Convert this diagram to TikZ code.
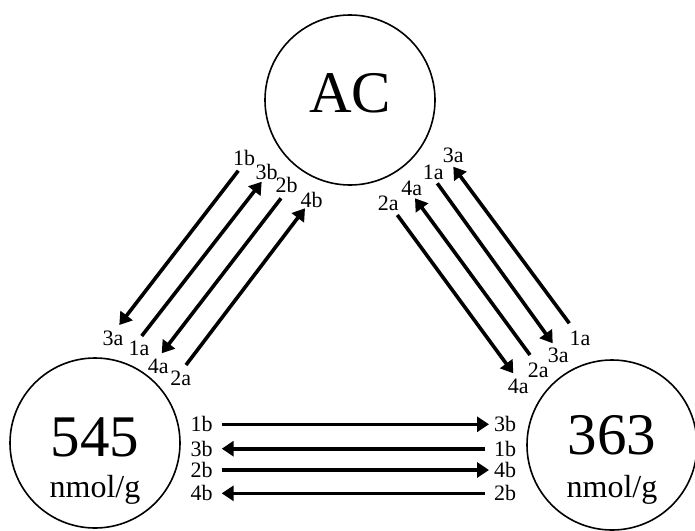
\documentclass[tikz,border=0pt]{standalone}
\usepackage{fontspec}
\setmainfont{Liberation Serif}
\usetikzlibrary{arrows.meta}
\begin{document}
\begin{tikzpicture}[x=1pt,y=-1pt,
 circ/.style={circle,draw,line width=1.6pt,minimum size=170pt,inner sep=0pt},
 big/.style={font=\fontsize{59}{59}\selectfont,inner sep=0pt},
 unit/.style={font=\fontsize{32}{32}\selectfont,inner sep=0pt},
 lbl/.style={font=\fontsize{22}{22}\selectfont,inner sep=0pt},
 arr/.style={line width=3.6pt,-{Triangle[length=12pt,width=15pt]}}]
\useasboundingbox (0,0) rectangle (695,530);
% circles
\node[circ] (AC) at (350,100) {};
\node[circ] (L) at (95,443) {};
\node[circ] (R) at (612,445) {};
\node[big] (tAC) at (350,93) {AC};
\node[big] (t545) at (95,437) {545};
\node[unit] (u545) at (95,490) {nmol/g};
\node[big] (t363) at (612,435) {363};
\node[unit] (u363) at (612,490) {nmol/g};
% left diagonal
\coordinate (a1) at (238.3,170.7); \coordinate (a2) at (119.3,325);
\coordinate (b1) at (141.7,336);   \coordinate (b2) at (261.7,181.7);
\coordinate (c1) at (281,198.3);   \coordinate (c2) at (161.7,353.3);
\coordinate (d1) at (186,365);     \coordinate (d2) at (305,208.3);
\draw[arr] (a1) -- (a2);
\draw[arr] (b1) -- (b2);
\draw[arr] (c1) -- (c2);
\draw[arr] (d1) -- (d2);
\node[lbl] (la1) at (244,158) {1b};
\node[lbl] (la2) at (113,338) {3a};
\node[lbl] (lb1) at (139,348) {1a};
\node[lbl] (lb2) at (266.7,171.7) {3b};
\node[lbl] (lc1) at (286.7,185) {2b};
\node[lbl] (lc2) at (158.3,366.7) {4a};
\node[lbl] (ld1) at (180.7,378) {2a};
\node[lbl] (ld2) at (311.7,200) {4b};
% right diagonal
\coordinate (e1) at (569.3,323.3); \coordinate (e2) at (453.3,166.7);
\coordinate (f1) at (437.3,183.3); \coordinate (f2) at (552.7,343.3);
\coordinate (g1) at (530,355);     \coordinate (g2) at (415,198.3);
\coordinate (h1) at (397.3,215);   \coordinate (h2) at (513.3,373.3);
\draw[arr] (e1) -- (e2);
\draw[arr] (f1) -- (f2);
\draw[arr] (g1) -- (g2);
\draw[arr] (h1) -- (h2);
\node[lbl] (le1) at (580,338.3) {1a};
\node[lbl] (le2) at (453.3,155) {3a};
\node[lbl] (lf1) at (433.3,172.3) {1a};
\node[lbl] (lf2) at (558.3,355) {3a};
\node[lbl] (lg1) at (538.3,370) {2a};
\node[lbl] (lg2) at (411.7,188.3) {4a};
\node[lbl] (lh1) at (388.3,203.3) {2a};
\node[lbl] (lh2) at (518.3,386.7) {4a};
% horizontal
\node[lbl] (p1) at (201.7,424.3) {1b};
\node[lbl] (q1) at (505,424.3) {3b};
\node[lbl] (p2) at (201.7,448.7) {3b};
\node[lbl] (q2) at (505,448.7) {1b};
\node[lbl] (p3) at (201.7,470) {2b};
\node[lbl] (q3) at (505,470) {4b};
\node[lbl] (p4) at (201.7,493.3) {4b};
\node[lbl] (q4) at (505,493.3) {2b};
\coordinate (s1) at (221.7,424.3); \coordinate (e1h) at (489,424.3);
\coordinate (s2) at (485,448.7);   \coordinate (e2h) at (221.7,448.7);
\coordinate (s3) at (221.7,470);   \coordinate (e3h) at (489,470);
\coordinate (s4) at (485,493.3);   \coordinate (e4h) at (221.7,493.3);
\draw[arr] (s1) -- (e1h);
\draw[arr] (s2) -- (e2h);
\draw[arr] (s3) -- (e3h);
\draw[arr] (s4) -- (e4h);
\end{tikzpicture}
\end{document}
